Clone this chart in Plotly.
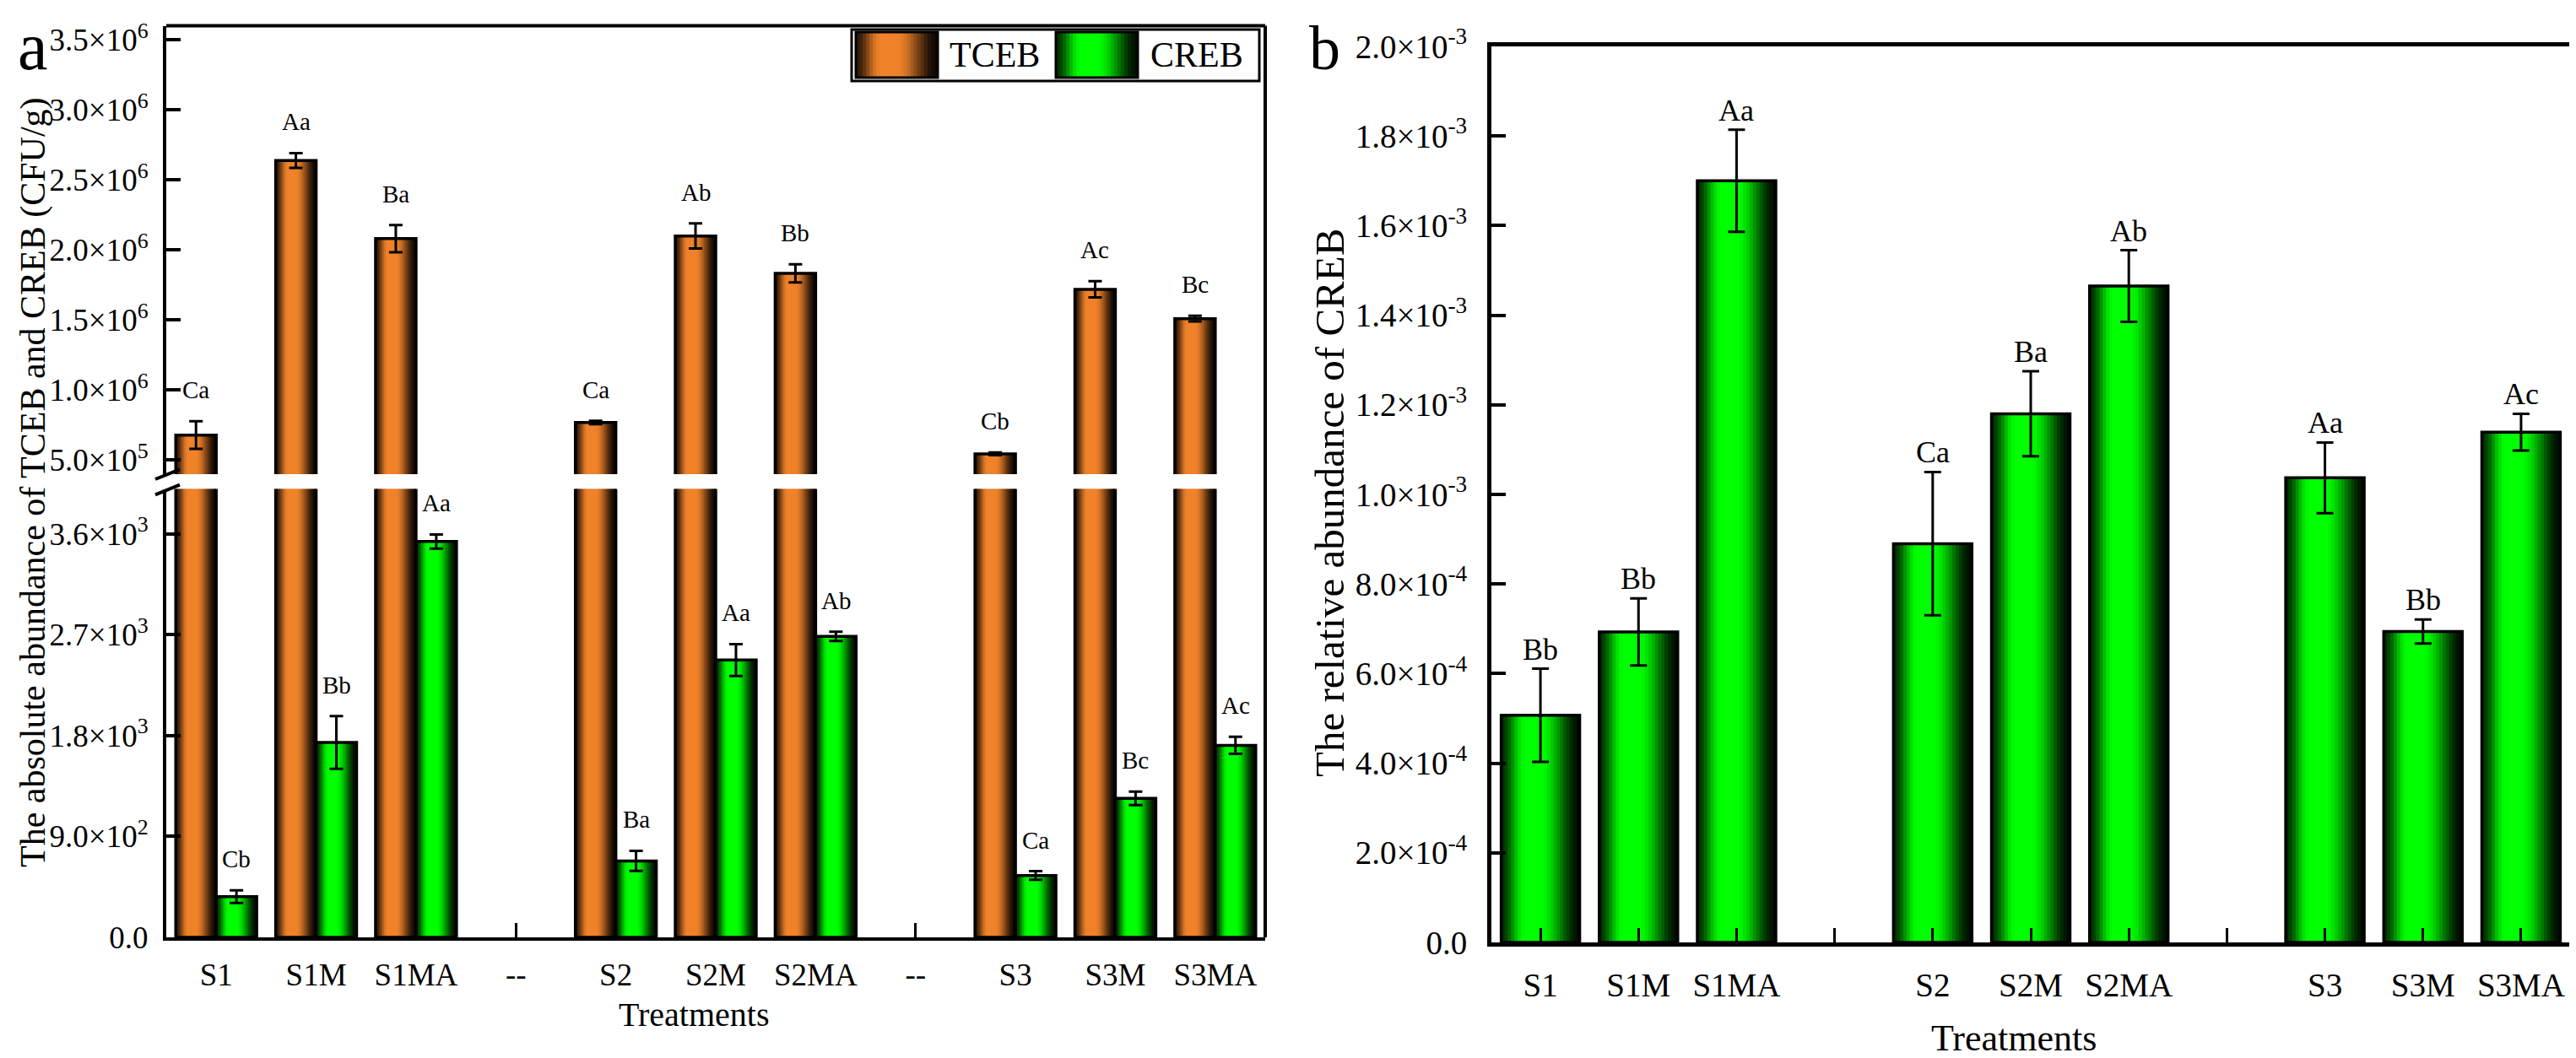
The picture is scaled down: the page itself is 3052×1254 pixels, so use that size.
import math
import plotly.graph_objects as go

# treatments (the "--" slots are the gaps between soil groups)
categories = ["S1", "S1M", "S1MA", "--", "S2", "S2M", "S2MA", "--", "S3", "S3M", "S3MA"]

# absolute abundance (CFU/g)
tceb = [0.679e6, 2.638e6, 2.081e6, None, 0.769e6, 2.100e6, 1.833e6, None, 0.545e6, 1.719e6, 1.510e6]
tceb_err = [0.099e6, 0.053e6, 0.097e6, None, 0.012e6, 0.090e6, 0.065e6, None, 0.010e6, 0.058e6, 0.020e6]
tceb_sig = ["Ca", "Aa", "Ba", None, "Ca", "Ab", "Bb", None, "Cb", "Ac", "Bc"]

creb = [363, 1738, 3531, None, 682, 2474, 2685, None, 552, 1240, 1713]
creb_err = [57, 235, 63, None, 90, 142, 41, None, 38, 60, 76]
creb_sig = ["Cb", "Bb", "Aa", None, "Ba", "Aa", "Ab", None, "Ca", "Bc", "Ac"]

# relative abundance of CREB
rel = [5.07e-4, 6.93e-4, 1.700e-3, None, 8.90e-4, 1.180e-3, 1.465e-3, None, 1.037e-3, 6.94e-4, 1.139e-3]
rel_err = [1.04e-4, 0.75e-4, 1.14e-4, None, 1.60e-4, 0.95e-4, 0.80e-4, None, 0.79e-4, 0.27e-4, 0.41e-4]
rel_sig = ["Bb", "Bb", "Aa", None, "Ca", "Ba", "Ab", None, "Aa", "Bb", "Ac"]

# tick labels
upper_ticks = [0.5e6, 1.0e6, 1.5e6, 2.0e6, 2.5e6, 3.0e6, 3.5e6]
upper_text = ["5.0×10<sup>5</sup>", "1.0×10<sup>6</sup>", "1.5×10<sup>6</sup>", "2.0×10<sup>6</sup>",
              "2.5×10<sup>6</sup>", "3.0×10<sup>6</sup>", "3.5×10<sup>6</sup>"]
lower_ticks = [0, 900, 1800, 2700, 3600]
lower_text = ["0.0", "9.0×10<sup>2</sup>", "1.8×10<sup>3</sup>", "2.7×10<sup>3</sup>", "3.6×10<sup>3</sup>"]
rel_ticks = [0, 2e-4, 4e-4, 6e-4, 8e-4, 1.0e-3, 1.2e-3, 1.4e-3, 1.6e-3, 1.8e-3, 2.0e-3]
rel_text = ["0.0", "2.0×10<sup>-4</sup>", "4.0×10<sup>-4</sup>", "6.0×10<sup>-4</sup>", "8.0×10<sup>-4</sup>",
            "1.0×10<sup>-3</sup>", "1.2×10<sup>-3</sup>", "1.4×10<sup>-3</sup>", "1.6×10<sup>-3</sup>",
            "1.8×10<sup>-3</sup>", "2.0×10<sup>-3</sup>"]

W, H = 3052, 1254
FONT = "Liberation Serif"
ORANGE = (240, 130, 42)
GREEN = (0, 255, 0)
N_STRIPS = 24


def px_x(p):
    return p / W


def px_y(p):
    return 1 - p / H


# panel domains (paper)
xa_dom = [px_x(189), px_x(1491)]
ya_low = [px_y(1103), px_y(571.5)]
ya_up = [px_y(554), px_y(22.5)]
xb_dom = [px_x(1759), px_x(3037)]
yb_dom = [px_y(1109), px_y(47)]


def smooth(u):
    u = min(max(u, 0.0), 1.0)
    return u * u * (3 - 2 * u)


def shade(rgb, t):
    # cylinder-like shading: dark edges, bright just left of centre
    if t < 0.3:
        b = 0.18 + 0.82 * smooth(t / 0.3)
    elif t < 0.5:
        b = 1.0
    else:
        b = 1.0 - 0.95 * smooth((t - 0.5) / 0.5)
    r, g, bl = (int(round(c * b)) for c in rgb)
    return f"rgb({r},{g},{bl})"


xs = list(range(len(categories)))
fig = go.Figure()


def add_shaded_bars(y, rgb, offset, width, xaxis, yaxis, err=None, err_w=8):
    step = width / N_STRIPS
    for j in range(N_STRIPS):
        w = min(step * 1.6, width - j * step)
        fig.add_trace(go.Bar(
            x=xs, y=y, offset=offset + j * step, width=w,
            marker=dict(color=shade(rgb, (j + 0.5) / N_STRIPS), line=dict(width=0)),
            xaxis=xaxis, yaxis=yaxis, showlegend=False, hoverinfo="skip"
        ))
    outline = go.Bar(
        x=xs, y=y, offset=offset, width=width,
        marker=dict(color="rgba(0,0,0,0)", line=dict(color="black", width=3.5)),
        xaxis=xaxis, yaxis=yaxis, showlegend=False
    )
    if err is not None:
        outline.error_y = dict(type="data", array=err, visible=True, color="black",
                               thickness=3, width=err_w)
    fig.add_trace(outline)


BW = 0.405
# panel a: TCEB on both halves of the broken axis, CREB on the lower half
add_shaded_bars(tceb, ORANGE, -BW, BW, "x", "y", err=tceb_err)
add_shaded_bars(tceb, ORANGE, -BW, BW, "x", "y2")
add_shaded_bars(creb, GREEN, 0, BW, "x", "y2", err=creb_err)
# panel b
add_shaded_bars(rel, GREEN, -0.4, 0.8, "x2", "y3", err=rel_err, err_w=10)

annotations = []
for i, (v, e, s) in enumerate(zip(tceb, tceb_err, tceb_sig)):
    if v is not None:
        annotations.append(dict(x=i - BW / 2, y=v + e, xref="x", yref="y", text=s, showarrow=False,
                                xanchor="center", yanchor="bottom", yshift=19, font=dict(size=29)))
for i, (v, e, s) in enumerate(zip(creb, creb_err, creb_sig)):
    if v is not None:
        annotations.append(dict(x=i + BW / 2, y=v + e, xref="x", yref="y2", text=s, showarrow=False,
                                xanchor="center", yanchor="bottom", yshift=19, font=dict(size=29)))
for i, (v, e, s) in enumerate(zip(rel, rel_err, rel_sig)):
    if v is not None:
        annotations.append(dict(x=i, y=v + e, xref="x2", yref="y3", text=s, showarrow=False,
                                xanchor="center", yanchor="bottom", yshift=1, font=dict(size=36)))


def label(x, y, text, size, angle=0, xanchor="center", yanchor="middle"):
    return dict(x=px_x(x), y=px_y(y), xref="paper", yref="paper", text=text, showarrow=False,
                textangle=angle, xanchor=xanchor, yanchor=yanchor, font=dict(size=size))


# axis titles, panel letters, legend text
annotations += [
    label(31, 564, "The absolute abundance of TCEB and CREB (CFU/g)", 42, -90),
    label(1567, 588, "The relative abundance of CREB", 49, -90),
    label(814, 1194, "Treatments", 40),
    label(2378, 1222, "Treatments", 44),
    label(31, 1, "a", 80, yanchor="top"),
    label(1561, 6, "b", 74, yanchor="top"),
    label(1115, 57, "TCEB", 42, xanchor="left"),
    label(1353, 57, "CREB", 42, xanchor="left"),
]

shapes = []
# frame of panel a: top and right edges, axis break marks
shapes.append(dict(type="line", xref="paper", yref="paper", x0=xa_dom[0], x1=xa_dom[1],
                   y0=ya_up[1], y1=ya_up[1], line=dict(color="black", width=4)))
shapes.append(dict(type="line", xref="paper", yref="paper", x0=xa_dom[1], x1=xa_dom[1],
                   y0=ya_low[0], y1=ya_up[1], line=dict(color="black", width=4)))
for y_left, y_right in [(560, 548.3), (578.3, 566.7)]:
    shapes.append(dict(type="line", xref="paper", yref="paper", x0=px_x(176), x1=px_x(205),
                       y0=px_y(y_left), y1=px_y(y_right), line=dict(color="black", width=4)))

# legend box with shaded swatches
shapes.append(dict(type="rect", xref="paper", yref="paper", x0=px_x(1001), x1=px_x(1484),
                   y0=px_y(88), y1=px_y(27), fillcolor="white", line=dict(color="black", width=3),
                   layer="above"))
for x0, rgb in [(1006, ORANGE), (1243, GREEN)]:
    sw = 97
    step = sw / N_STRIPS
    for j in range(N_STRIPS):
        shapes.append(dict(type="rect", xref="paper", yref="paper",
                           x0=px_x(x0 + j * step), x1=px_x(x0 + min((j + 1.6) * step, sw)),
                           y0=px_y(84), y1=px_y(30), fillcolor=shade(rgb, (j + 0.5) / N_STRIPS),
                           line=dict(width=0), layer="above"))
    shapes.append(dict(type="rect", xref="paper", yref="paper", x0=px_x(x0), x1=px_x(x0 + sw),
                       y0=px_y(84), y1=px_y(30), line=dict(color="black", width=3), layer="above"))

axis_common = dict(showgrid=False, zeroline=False, showline=True, linecolor="black",
                   ticks="inside", tickcolor="black", ticklen=17, automargin=False)

fig.update_layout(
    width=W, height=H, autosize=False,
    margin=dict(l=0, r=0, t=0, b=0, pad=0, autoexpand=False),
    paper_bgcolor="white", plot_bgcolor="white",
    barmode="overlay", showlegend=False,
    font=dict(family=FONT, color="black"),
    xaxis=dict(domain=xa_dom, anchor="y2", range=[-0.5, 10.5], tickmode="array", tickvals=xs,
               ticktext=categories, linewidth=4, tickwidth=3, tickfont=dict(size=37),
               ticklabelstandoff=9, **axis_common),
    yaxis=dict(domain=ya_up, anchor="x", range=[0.4e6, 3.6e6], tickmode="array",
               tickvals=upper_ticks, ticktext=upper_text, linewidth=4, tickwidth=4,
               tickfont=dict(size=37), ticklabelstandoff=10, **axis_common),
    yaxis2=dict(domain=ya_low, anchor="x", range=[0, 4000], tickmode="array",
                tickvals=lower_ticks, ticktext=lower_text, linewidth=4, tickwidth=4,
                tickfont=dict(size=37), ticklabelstandoff=10, **axis_common),
    xaxis2=dict(domain=xb_dom, anchor="y3", range=[-0.5, 10.5], tickmode="array", tickvals=xs,
                ticktext=[c if c != "--" else "" for c in categories], linewidth=5, tickwidth=3,
                mirror=True, tickfont=dict(size=39), ticklabelstandoff=12, **axis_common),
    yaxis3=dict(domain=yb_dom, anchor="x2", range=[0, 2.0e-3], tickmode="array",
                tickvals=rel_ticks, ticktext=rel_text, linewidth=5, tickwidth=4, mirror=True,
                tickfont=dict(size=39), ticklabelstandoff=16, **axis_common),
    annotations=annotations,
    shapes=shapes,
)

fig.write_html("out.html")
